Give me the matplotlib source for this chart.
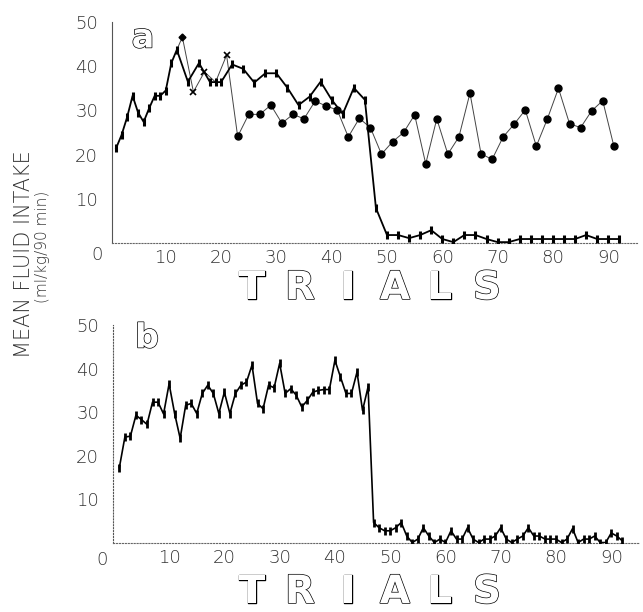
import numpy as np
import matplotlib.pyplot as plt
from matplotlib import patheffects as pe

plt.rcParams['font.family'] = ['DejaVu Sans']
plt.rcParams['font.weight'] = 'light'

# panel a, group 1: every trial up to 12, then even trials
g1_trials = list(range(1, 13)) + list(range(14, 93, 2))
g1_vals = [21.4, 24.4, 28.4, 33.3, 29.5, 27.4, 30.5, 33.3, 33.3, 34.5, 40.7, 43.7,
           36.5, 40.7, 36.4, 36.4, 40.4, 39.4, 36.3, 38.4, 38.4, 35.1, 31.2, 33.1,
           36.5, 32.4, 29.2, 35.1, 32.4,
           7.9, 1.8, 1.8, 1.1, 1.8, 2.9, 0.9, 0.2, 1.8, 1.8, 0.9, 0.2, 0.2, 0.9,
           0.9, 0.9, 0.9, 0.9, 0.9, 1.8, 0.9, 0.9, 0.9]

# panel a, group 2: branches at trial 12, then odd trials
g2_trials = [12] + list(range(13, 92, 2))
g2_vals = [43.7, 46.6, 34.2, 38.7, 36.4, 42.5,
           24.1, 29.1, 29.1, 31.2, 27.1, 29.1, 28.1, 32.1, 31.0, 30.1, 24.0, 28.2,
           26.1, 20.1, 22.9, 25.0, 29.0, 17.9, 28.1, 20.1, 24.0, 33.9, 20.2, 18.9,
           24.0, 26.9, 30.1, 21.9, 28.1, 35.0, 27.0, 26.1, 29.9, 32.2, 22.0]

# panel b: one value per trial
b_trials = list(range(1, 93))
b_vals = [17.3, 24.3, 24.5, 29.3, 28.3, 27.2, 32.3, 32.3, 29.6, 36.5,
          29.7, 24.0, 31.6, 32.0, 29.7, 34.3, 36.2, 34.3, 29.7, 34.6,
          29.7, 34.3, 36.2, 36.9, 40.8, 32.0, 30.8, 36.2, 35.6, 41.2,
          34.3, 35.4, 33.9, 31.2, 32.7, 34.6, 35.0, 35.2, 35.2, 41.9,
          38.1, 34.3, 34.3, 39.2, 30.4, 35.8, 4.7, 3.5, 2.8, 2.8,
          3.5, 4.7, 1.6, 0.1, 0.9, 3.5, 1.6, 0.1, 0.9, 0.1,
          2.8, 0.9, 0.9, 3.5, 0.9, 0.1, 0.9, 0.9, 1.6, 3.5,
          0.9, 0.1, 0.9, 1.6, 3.5, 1.6, 1.6, 0.9, 0.9, 0.9,
          0.1, 0.9, 3.3, 0.1, 0.9, 0.9, 1.6, 0.1, 0.1, 2.3,
          1.6, 0.5]

y_ticks = [10, 20, 30, 40, 50]
x_ticks = [10, 20, 30, 40, 50, 60, 70, 80, 90]

W, H = 643, 612
fig = plt.figure(figsize=(W / 100, H / 100), dpi=100)


def fx(px):
    return px / W


def fy(py):
    return 1 - py / H


ax_a = fig.add_axes([fx(112), fy(243), (637 - 112) / W, (243 - 22) / H])
ax_b = fig.add_axes([fx(113), fy(543), (640 - 113) / W, (543 - 325) / H])


def style(ax, left_ls, xmin):
    for s in ('top', 'right'):
        ax.spines[s].set_visible(False)
    ax.spines['bottom'].set_linestyle(':')
    ax.spines['bottom'].set_linewidth(0.8)
    ax.spines['bottom'].set_color('#666')
    ax.spines['left'].set_linestyle(left_ls)
    ax.spines['left'].set_linewidth(0.8)
    ax.spines['left'].set_color('#555')
    ax.set_xlim(xmin, 95.2)
    ax.set_ylim(0, 50)
    ax.set_yticks(y_ticks)
    ax.set_xticks(x_ticks)
    ax.tick_params(axis='both', length=0, labelsize=13, labelcolor='#333')
    ax.tick_params(axis='y', pad=10)
    ax.tick_params(axis='x', pad=4)


style(ax_a, '-', 0.28)
style(ax_b, ':', -0.15)

# panel a
g1_t = np.array(g1_trials)
g1_v = np.array(g1_vals)
g2_t = np.array(g2_trials)
g2_v = np.array(g2_vals)

ax_a.plot(g2_t, g2_v, color='#444', lw=0.7, zorder=2)
circ = g2_t >= 23
ax_a.plot(g2_t[circ], g2_v[circ], 'o', color='black', ms=5, zorder=3)
xs = np.isin(g2_t, [15, 17, 21])
ax_a.plot(g2_t[xs], g2_v[xs], 'x', color='black', ms=5, mew=1.2, zorder=3)
dm = g2_t == 13
ax_a.plot(g2_t[dm], g2_v[dm], 'D', color='black', ms=3.5, zorder=3)
br = g2_t == 19
ax_a.plot(g2_t[br], g2_v[br], '|', color='black', ms=6, mew=2.2, zorder=3)

ax_a.plot(g1_t, g1_v, color='black', lw=1.3, zorder=2)
ax_a.plot(g1_t, g1_v, '|', color='black', ms=6, mew=2.2, zorder=3)

# panel b
ax_b.plot(b_trials, b_vals, color='black', lw=1.2, zorder=2)
ax_b.plot(b_trials, b_vals, '|', color='black', ms=5.5, mew=2, zorder=3)

# corner zeros
fig.text(fx(97), fy(255), '0', fontsize=13, color='#333', ha='center', va='center')
fig.text(fx(102), fy(560), '0', fontsize=13, color='#333', ha='center', va='center')

outline = [pe.withStroke(linewidth=1.0, foreground='black')]
for ch, px in zip('TRIALS', [252, 300, 348, 395, 440, 487]):
    fig.text(fx(px), fy(288), ch, fontsize=28, fontweight='bold', color='white',
             ha='center', va='center', path_effects=outline)
    fig.text(fx(px), fy(592), ch, fontsize=28, fontweight='bold', color='white',
             ha='center', va='center', path_effects=outline)

fig.text(fx(143), fy(38), 'a', fontsize=24, fontweight='bold', color='white',
         ha='center', va='center', path_effects=outline)
fig.text(fx(147), fy(338), 'b', fontsize=24, fontweight='bold', color='white',
         ha='center', va='center', path_effects=outline)

fig.text(fx(24), fy(254), 'MEAN FLUID INTAKE', rotation=90, fontsize=15,
         color='#333', ha='center', va='center')
fig.text(fx(43), fy(247), '(ml/kg/90 min)', rotation=90, fontsize=11,
         color='#333', ha='center', va='center')

fig.savefig('out.png', dpi=100)
